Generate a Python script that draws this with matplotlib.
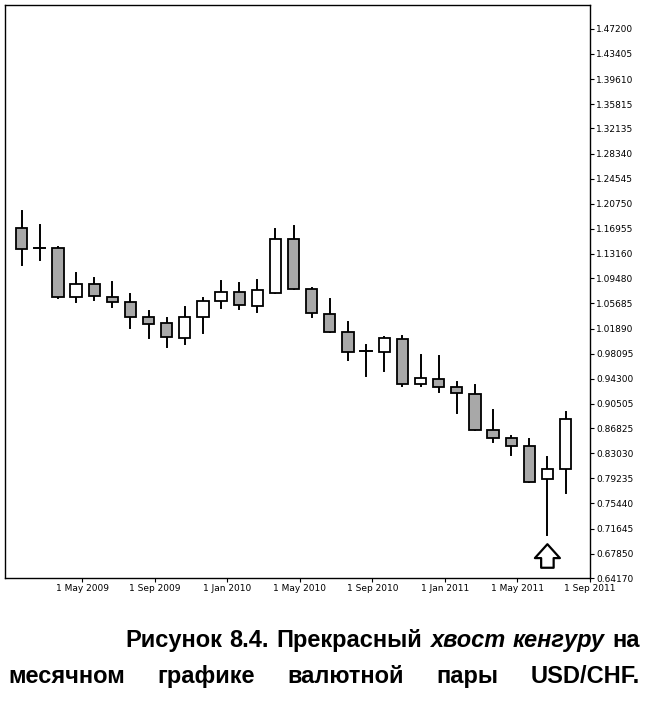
import numpy as np
import matplotlib
matplotlib.use('Agg')
import matplotlib.pyplot as plt

# monthly USD/CHF candles, Mar 2009 .. Sep 2011
opens  = [1.1713, 1.1401, 1.1410, 1.0669, 1.0856, 1.0669, 1.0593, 1.0366, 1.0266, 1.0039,
          1.0366, 1.0604, 1.0744, 1.0532, 1.0729, 1.1542, 1.0781, 1.0407, 1.0139, 0.9847,
          0.9827, 1.0029, 0.9352, 0.9428, 0.9298, 0.9192, 0.8652, 0.8541, 0.8410, 0.7921, 0.8062]
highs  = [1.1970, 1.1750, 1.1420, 1.1023, 1.0956, 1.0886, 1.0705, 1.0457, 1.0342, 1.0508,
          1.0644, 1.0906, 1.0880, 1.0921, 1.1693, 1.1738, 1.0800, 1.0629, 1.0290, 0.9938,
          1.0054, 1.0074, 0.9787, 0.9771, 0.9373, 0.9333, 0.8954, 0.8560, 0.8526, 0.8248, 0.8929]
lows   = [1.1148, 1.1224, 1.0650, 1.0584, 1.0619, 1.0517, 1.0190, 1.0039, 0.9912, 0.9953,
          1.0124, 1.0493, 1.0478, 1.0432, 1.0729, 1.0781, 1.0366, 1.0139, 0.9711, 0.9469,
          0.9549, 0.9317, 0.9317, 0.9231, 0.8914, 0.8652, 0.8475, 0.8274, 0.7870, 0.7063, 0.7709]
closes = [1.1386, 1.1401, 1.0669, 1.0861, 1.0684, 1.0593, 1.0366, 1.0255, 1.0054, 1.0357,
          1.0604, 1.0744, 1.0543, 1.0770, 1.1542, 1.0781, 1.0417, 1.0139, 0.9827, 0.9847,
          1.0039, 0.9343, 0.9434, 0.9298, 0.9207, 0.8652, 0.8541, 0.8414, 0.7870, 0.8062, 0.8814]
ytick_labels = ['0.64170', '0.67850', '0.71645', '0.75440', '0.79235', '0.83030', '0.86825',
                '0.90505', '0.94300', '0.98095', '1.01890', '1.05685', '1.09480', '1.13160',
                '1.16955', '1.20750', '1.24545', '1.28340', '1.32135', '1.35815', '1.39610',
                '1.43405', '1.47200']
ytick_vals = [float(s) for s in ytick_labels]
xtick_labels = ['1 May 2009', '1 Sep 2009', '1 Jan 2010', '1 May 2010',
                '1 Sep 2010', '1 Jan 2011', '1 May 2011', '1 Sep 2011']
xtick_pos = [3.35 + 4 * k for k in range(len(xtick_labels))]
arrow_idx = 29

fig = plt.figure(figsize=(6.5, 7.07), dpi=100)
ax = fig.add_axes([5/650, 1 - 578/707, 585/650, 573/707])

w = 0.62
for i, (o, h, l, c) in enumerate(zip(opens, highs, lows, closes)):
    ax.plot([i, i], [l, h], color='black', lw=1.4, zorder=1)
    lo, hi = min(o, c), max(o, c)
    face = '#a8a8a8' if c < o else 'white'
    if hi - lo < 0.002:
        ax.plot([i - w/2, i + w/2], [o, o], color='black', lw=1.4, zorder=2)
    else:
        ax.add_patch(plt.Rectangle((i - w/2, lo), w, hi - lo, facecolor=face,
                                   edgecolor='black', lw=1.3, zorder=2))

ax.annotate('', xy=(arrow_idx, 0.697), xytext=(arrow_idx, 0.653),
            arrowprops=dict(arrowstyle='simple,head_width=1.8,head_length=1.0,tail_width=0.9',
                            facecolor='white', edgecolor='black', lw=1.6))

ax.set_xlim(-0.92, 30.6)
ax.set_ylim(0.6417, 1.508)
ax.yaxis.tick_right()
ax.set_yticks(ytick_vals)
ax.set_yticklabels(ytick_labels, fontsize=6.5)
ax.set_xticks(xtick_pos)
ax.set_xticklabels(xtick_labels, fontsize=6.5)
ax.tick_params(length=3, width=0.8, pad=1.5)
for s in ax.spines.values():
    s.set_linewidth(1.0)

# caption, justified to the right edge
renderer = fig.canvas.get_renderer()
def line(words, y, x0, x1):
    ts = [fig.text(0, y, t, fontsize=17, fontweight='bold', style=st,
                   family='Liberation Sans', va='baseline') for t, st in words]
    wds = [t.get_window_extent(renderer).width / fig.bbox.width for t in ts]
    gap = (x1 - x0 - sum(wds)) / (len(ts) - 1)
    x = x0
    for t, wd in zip(ts, wds):
        t.set_x(x)
        x += wd + gap

line([('Рисунок', 'normal'), ('8.4.', 'normal'), ('Прекрасный', 'normal'),
      ('хвост', 'italic'), ('кенгуру', 'italic'), ('на', 'normal')],
     1 - 647/707, 125/650, 640/650)
line([('месячном', 'normal'), ('графике', 'normal'), ('валютной', 'normal'),
      ('пары', 'normal'), ('USD/CHF.', 'normal')],
     1 - 683/707, 8/650, 640/650)

fig.savefig('out.png', dpi=100)
